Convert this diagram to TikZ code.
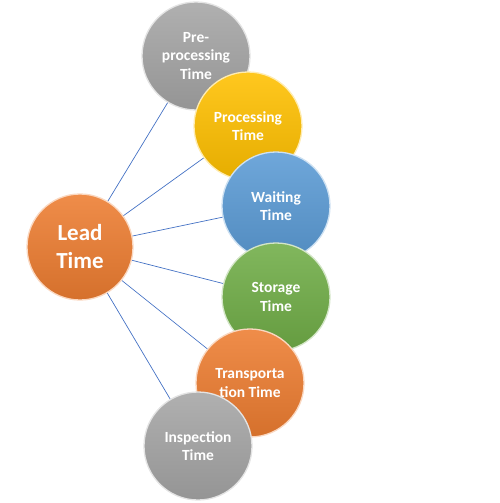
\documentclass[tikz,border=0pt]{standalone}
\usepackage{fontspec}
\setmainfont{Carlito}
\definecolor{cgray}{HTML}{A5A5A5}
\definecolor{cgold}{HTML}{FFC000}
\definecolor{cblue}{HTML}{5B9BD5}
\definecolor{cgreen}{HTML}{70AD47}
\definecolor{corange}{HTML}{ED7D31}
\definecolor{cline}{HTML}{4472C4}
\begin{document}
\begin{tikzpicture}[x=1pt,y=-1pt,
  bub/.style={circle, minimum size=108pt, inner sep=0pt, align=center,
    text=white, font=\fontsize{15.5}{18.5}\selectfont\bfseries,
    top color=#1!88!white, bottom color=#1!90!black,
    draw=#1!30!white, line width=1.3pt},
  link/.style={draw=cline, line width=0.7pt}]
\useasboundingbox (0,0) rectangle (499,503);
\coordinate (cL) at (80,247);
\coordinate (cA) at (196,56);
\coordinate (cB) at (248,126);
\coordinate (cC) at (276,206);
\coordinate (cD) at (276,297);
\coordinate (cE) at (250,383);
\coordinate (cF) at (198,446);
\foreach \t in {A,B,C,D,E,F} \draw[link] (cL) -- (c\t);
\node[bub=cgray] (pre) at (cA) {Pre-\\processing\\Time};
\node[bub=cgold] (proc) at (cB) {Processing\\Time};
\node[bub=cblue] (wait) at (cC) {Waiting\\Time};
\node[bub=cgreen] (stor) at (cD) {Storage\\Time};
\node[bub=corange] (trans) at (cE) {Transporta\\tion Time};
\node[bub=cgray] (insp) at (cF) {Inspection\\Time};
\node[bub=corange, minimum size=106pt, font=\fontsize{23}{28}\selectfont\bfseries] (lead) at (cL) {Lead\\Time};
\end{tikzpicture}
\end{document}
